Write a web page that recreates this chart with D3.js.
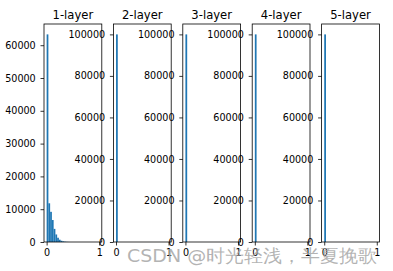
<!DOCTYPE html>
<html>
<head>
<meta charset="utf-8">
<script src="https://cdn.jsdelivr.net/npm/d3@7"></script>
<style>
  html, body { margin: 0; padding: 0; background: #fff; }
  svg { display: block; }
  text { font-family: "DejaVu Sans", sans-serif; }
</style>
</head>
<body>
<svg id="chart" width="393" height="271"></svg>
<script>
// Activation histograms of a 5-layer network (30 bins over [0, 1])
const layerTitles = ["1-layer", "2-layer", "3-layer", "4-layer", "5-layer"];
const binCount = 30;
const histRange = [0, 1];

// Counts per bin, starting from the first bin; unlisted bins are empty
const layer1Counts = [63300, 11800, 9200, 6700, 4000, 2300, 1300, 700, 380, 200, 100, 50, 20];
const layer2Counts = [100000];
const layer3Counts = [100000];
const layer4Counts = [100000];
const layer5Counts = [100000];
const layerCounts = [layer1Counts, layer2Counts, layer3Counts, layer4Counts, layer5Counts];

const layer1YTicks = [0, 10000, 20000, 30000, 40000, 50000, 60000];
const otherYTicks = [0, 20000, 40000, 60000, 80000, 100000];
const xTicks = [0, 1];

const watermark = "CSDN @时光轻浅，半夏挽歌";

const svg = d3.select("#chart");
const barColor = "#1f77b4";

const plotLeft = 44, plotTop = 24, plotBottom = 242;
const panelW = 57.8, gap = 11.6;

layerTitles.forEach((title, i) => {
  const counts = layerCounts[i];
  const left = plotLeft + i * (panelW + gap);
  const binW = (histRange[1] - histRange[0]) / binCount;
  const span = histRange[1] - histRange[0];
  const x = d3.scaleLinear()
    .domain([histRange[0] - 0.05 * span, histRange[1] + 0.05 * span])
    .range([left, left + panelW]);
  const y = d3.scaleLinear()
    .domain([0, d3.max(counts) * 1.05])
    .range([plotBottom, plotTop]);

  const g = svg.append("g");

  // bars
  g.selectAll("rect.bar")
    .data(counts)
    .join("rect")
    .attr("class", "bar")
    .attr("x", (d, k) => x(histRange[0] + k * binW))
    .attr("width", x(binW) - x(0))
    .attr("y", d => y(d))
    .attr("height", d => y(0) - y(d))
    .attr("fill", barColor);

  // y axis
  const yAxis = d3.axisLeft(y)
    .tickValues(i === 0 ? layer1YTicks : otherYTicks)
    .tickFormat(d3.format("d"))
    .tickSize(3.5).tickSizeOuter(0).tickPadding(4.8);
  const ya = g.append("g").attr("transform", `translate(${left},0)`).call(yAxis);
  ya.select(".domain").remove();
  ya.selectAll("text").attr("font-size", "9.6px").attr("fill", "#000")
    .attr("font-family", "DejaVu Sans, sans-serif");
  ya.selectAll("line").attr("stroke", "#000").attr("stroke-width", 0.8);

  // x axis
  const xAxis = d3.axisBottom(x)
    .tickValues(xTicks)
    .tickFormat(d3.format("d"))
    .tickSize(3.5).tickSizeOuter(0).tickPadding(3.7);
  const xa = g.append("g").attr("transform", `translate(0,${plotBottom})`).call(xAxis);
  xa.select(".domain").remove();
  xa.selectAll("text").attr("font-size", "9.6px").attr("fill", "#000")
    .attr("font-family", "DejaVu Sans, sans-serif");
  xa.selectAll("line").attr("stroke", "#000").attr("stroke-width", 0.8);

  // frame
  g.append("rect")
    .attr("x", left).attr("y", plotTop)
    .attr("width", panelW).attr("height", plotBottom - plotTop)
    .attr("fill", "none").attr("stroke", "#000").attr("stroke-width", 0.8);

  // title
  g.append("text")
    .attr("x", left + panelW / 2).attr("y", 19)
    .attr("text-anchor", "middle")
    .attr("font-size", "11.6px")
    .attr("fill", "#000")
    .text(title);
});

// watermark
svg.append("text")
  .attr("x", 127).attr("y", 262)
  .attr("font-family", "'Noto Sans CJK SC', sans-serif")
  .attr("font-size", "18px")
  .attr("fill", "#a6a6a6")
  .attr("fill-opacity", 0.85)
  .attr("textLength", 250)
  .attr("lengthAdjust", "spacingAndGlyphs")
  .text(watermark);
</script>
</body>
</html>
